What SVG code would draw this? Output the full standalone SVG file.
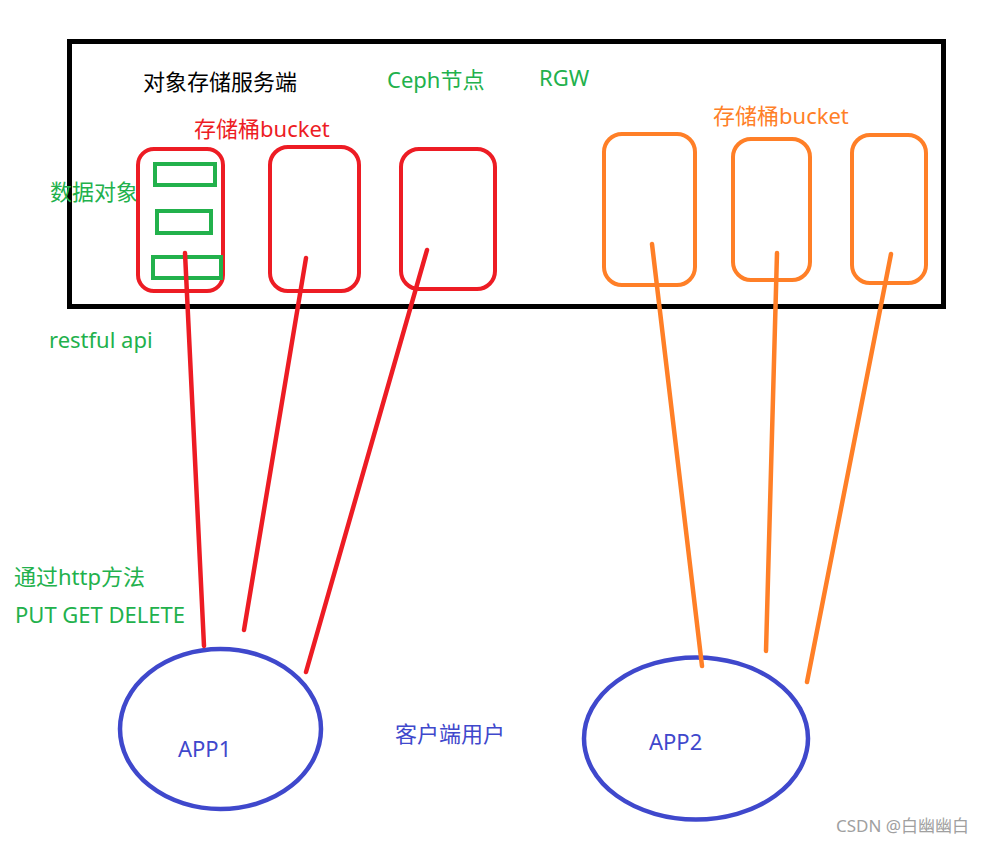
<svg xmlns="http://www.w3.org/2000/svg" width="985" height="843" viewBox="0 0 985 843">
<style>
text{font-family:"Microsoft YaHei","Noto Sans","Noto Sans CJK SC",sans-serif;font-size:22px}
.g{fill:#22B14C}.r{fill:#ED1C24}.o{fill:#FF7F27}.b{fill:#3F48CC}
.rb{fill:none;stroke:#ED1C24;stroke-width:4}
.ob{fill:none;stroke:#FF7F27;stroke-width:4}
.gb{fill:none;stroke:#22B14C;stroke-width:4}
.app{fill:none;stroke:#3F48CC;stroke-width:4.5}
.rl{stroke:#ED1C24;stroke-width:4.5;stroke-linecap:round}
.ol{stroke:#FF7F27;stroke-width:4.5;stroke-linecap:round}
</style>
<rect width="985" height="843" fill="#fff"/>
<g id="server">
<rect x="69.5" y="41.5" width="874" height="265" fill="none" stroke="#000" stroke-width="5"/>
<text x="143" y="90" fill="#000">对象存储服务端</text>
<text x="387" y="88" class="g">Ceph节点</text>
<text x="539" y="86" class="g">RGW</text>
<text x="194" y="137" class="r">存储桶bucket</text>
<text x="713" y="124" class="o">存储桶bucket</text>
<text x="50" y="200" class="g">数据对象</text>
</g>
<g id="bucket-r1">
<rect x="138" y="149" width="85" height="142" rx="16" class="rb"/>
<rect x="155" y="164" width="60" height="21" class="gb"/>
<rect x="157" y="211" width="54" height="22" class="gb"/>
<rect x="153" y="257" width="68" height="21" class="gb"/>
</g>
<g id="bucket-r2"><rect x="270" y="147" width="89" height="144" rx="18" class="rb"/></g>
<g id="bucket-r3"><rect x="401" y="149" width="94" height="140" rx="18" class="rb"/></g>
<g id="bucket-o1"><rect x="604" y="134" width="91" height="151" rx="18" class="ob"/></g>
<g id="bucket-o2"><rect x="733" y="139" width="77" height="141" rx="18" class="ob"/></g>
<g id="bucket-o3"><rect x="852" y="135" width="74" height="148" rx="18" class="ob"/></g>
<g id="labels">
<text x="49" y="348" class="g">restful api</text>
<text x="14" y="585" class="g">通过http方法</text>
<text x="15" y="623" class="g">PUT GET DELETE</text>
<text x="395" y="742" class="b">客户端用户</text>
<text x="836" y="832" fill="#A0A0A0" style="font-size:17px">CSDN @白幽幽白</text>
</g>
<g id="app1">
<ellipse cx="220.5" cy="729" rx="100.5" ry="80" class="app"/>
<text x="178" y="757" class="b">APP1</text>
</g>
<g id="app2">
<ellipse cx="696" cy="738.5" rx="112" ry="81" class="app"/>
<text x="649" y="750" class="b">APP2</text>
</g>
<g id="connectors">
<line x1="185" y1="253" x2="204" y2="646" class="rl"/>
<line x1="306" y1="258" x2="244" y2="630" class="rl"/>
<line x1="427" y1="250" x2="306" y2="672" class="rl"/>
<line x1="652" y1="244" x2="702" y2="666" class="ol"/>
<line x1="777" y1="253" x2="766" y2="651" class="ol"/>
<line x1="891" y1="254" x2="807" y2="682" class="ol"/>
</g>
</svg>
